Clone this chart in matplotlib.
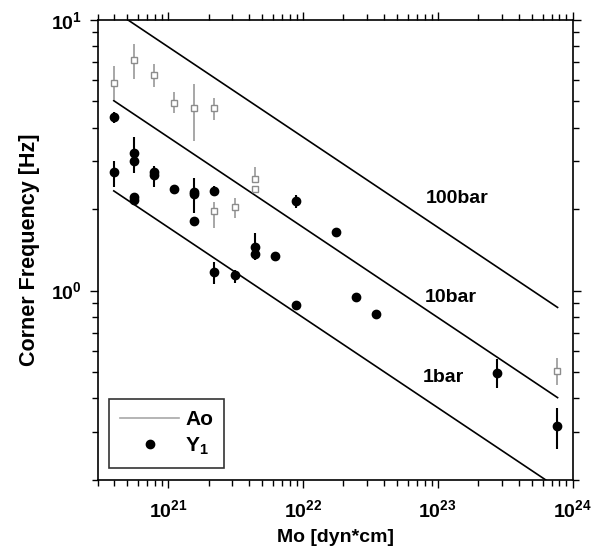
import numpy as np
import matplotlib
matplotlib.use('Agg')
import matplotlib.pyplot as plt
from matplotlib.lines import Line2D
from matplotlib.ticker import LogLocator, NullFormatter

plt.rcParams['font.family'] = ['Liberation Sans', 'DejaVu Sans']
plt.rcParams['font.weight'] = 'bold'
plt.rcParams['mathtext.fontset'] = 'custom'
plt.rcParams['mathtext.rm'] = 'Liberation Sans:bold'
plt.rcParams['mathtext.it'] = 'Liberation Sans:bold'
plt.rcParams['mathtext.bf'] = 'Liberation Sans:bold'

# Ao events (gray squares): moment, corner freq, error low/high
ao_mo = [3.96e20, 5.61e20, 7.89e20, 1.11e21, 1.56e21, 2.20e21, 2.20e21, 3.14e21, 4.42e21, 4.42e21, 7.71e23]
ao_fc = [5.87, 7.10, 6.26, 4.95, 4.72, 4.72, 1.97, 2.03, 2.59, 2.38, 0.506]
ao_lo = [5.06, 6.04, 5.67, 4.52, 3.57, 4.27, 1.71, 1.85, 2.59, 2.29, 0.448]
ao_hi = [6.76, 8.13, 6.86, 5.44, 5.79, 5.14, 2.13, 2.20, 2.86, 2.38, 0.563]

# Y1 events (black dots)
y1_mo = [3.96e20, 3.96e20, 5.61e20, 5.61e20, 5.61e20, 5.61e20, 7.89e20, 7.89e20, 1.11e21,
         1.56e21, 1.56e21, 1.56e21, 2.20e21, 8.83e21, 1.75e22, 4.42e21, 4.42e21, 6.24e21,
         2.20e21, 3.14e21, 8.83e21, 2.49e22, 3.51e22, 2.77e23, 7.71e23]
y1_fc = [4.39, 2.74, 3.22, 3.00, 2.22, 2.16, 2.74, 2.68, 2.38,
         2.32, 2.28, 1.81, 2.34, 2.14, 1.64, 1.45, 1.37, 1.34,
         1.17, 1.14, 0.885, 0.95, 0.82, 0.498, 0.315]
y1_lo = [4.15, 2.42, 3.22, 2.73, 2.22, 2.16, 2.42, 2.68, 2.38,
         2.32, 1.93, 1.81, 2.24, 2.02, 1.64, 1.45, 1.30, 1.34,
         1.06, 1.07, 0.885, 0.95, 0.82, 0.436, 0.259]
y1_hi = [4.58, 3.02, 3.69, 3.00, 2.22, 2.16, 2.89, 2.68, 2.38,
         2.60, 2.28, 1.81, 2.43, 2.26, 1.64, 1.63, 1.37, 1.34,
         1.27, 1.19, 0.885, 0.95, 0.82, 0.558, 0.368]

# Brune stress-drop lines
stress = [100, 10, 1]
stress_labels = ['100bar', '10bar', '1bar']
label_pos = [(1.39e23, 2.18), (1.26e23, 0.94), (1.11e23, 0.476)]
beta = 3.5  # km/s
mo_line = np.array([3.96e20, 7.75e23])

fig = plt.figure(figsize=(6.02, 5.54), dpi=100)
ax = fig.add_axes([0.162, 0.134, 0.789, 0.830])

for s, lab, pos in zip(stress, stress_labels, label_pos):
    fc = 4.9e6 * beta * (s / mo_line) ** (1.0 / 3)
    ax.plot(mo_line, fc, color='black', lw=1.2)
    ax.text(pos[0], pos[1], lab, ha='center', va='center', fontsize=14, fontweight='bold')

ao_fc = np.array(ao_fc)
ax.errorbar(ao_mo, ao_fc, yerr=[ao_fc - np.array(ao_lo), np.array(ao_hi) - ao_fc],
            fmt='s', mfc='white', mec='#8c8c8c', ms=4.5, mew=1.0,
            ecolor='#a0a0a0', elinewidth=1.3, capsize=0)

y1_fc = np.array(y1_fc)
ax.errorbar(y1_mo, y1_fc, yerr=[y1_fc - np.array(y1_lo), np.array(y1_hi) - y1_fc],
            fmt='o', color='black', ms=6, elinewidth=1.5, capsize=0)

ax.set_xscale('log')
ax.set_yscale('log')
ax.set_xlim(3.0e20, 1e24)
ax.set_ylim(0.2, 10)

ax.xaxis.set_major_locator(LogLocator(base=10, numticks=10))
ax.xaxis.set_minor_locator(LogLocator(base=10, subs=np.arange(2, 10), numticks=20))
ax.yaxis.set_major_locator(LogLocator(base=10, numticks=10))
ax.yaxis.set_minor_locator(LogLocator(base=10, subs=np.arange(2, 10), numticks=20))
ax.xaxis.set_minor_formatter(NullFormatter())
ax.yaxis.set_minor_formatter(NullFormatter())

ax.tick_params(which='both', direction='out', top=True, right=True, width=1.0, labelsize=14)
ax.tick_params(which='major', length=6)
ax.tick_params(which='minor', length=4)
ax.tick_params(axis='x', pad=8)
ax.tick_params(axis='y', pad=5)
for sp in ax.spines.values():
    sp.set_linewidth(1.2)

ax.set_xlabel('Mo [dyn*cm]', fontsize=14, fontweight='bold', labelpad=6)
ax.set_ylabel('Corner Frequency [Hz]', fontsize=15.5, fontweight='bold', labelpad=8)

handles = [Line2D([], [], color='#a8a8a8', lw=1.2),
           Line2D([], [], marker='o', color='black', ls='none', ms=6)]
leg = ax.legend(handles, ['Ao', r'Y$_1$'], loc='lower left', fontsize=15,
                frameon=True, fancybox=False, handlelength=2.8,
                borderaxespad=0.55, labelspacing=0.3, borderpad=0.55, handletextpad=0.3)
leg.get_frame().set_edgecolor('black')
leg.get_frame().set_linewidth(1.2)

fig.savefig('out.png', dpi=100)
